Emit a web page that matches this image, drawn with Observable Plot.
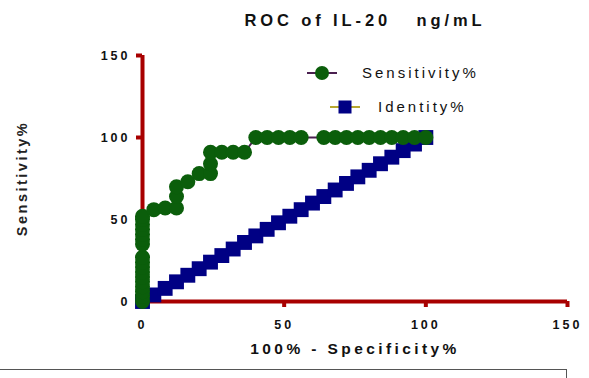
<!DOCTYPE html>
<html>
<head>
<meta charset="utf-8">
<script src="https://cdn.jsdelivr.net/npm/d3@7"></script>
<script src="https://cdn.jsdelivr.net/npm/@observablehq/plot@0.6"></script>
<style>
  html, body { margin: 0; padding: 0; background: #fff; }
  #wrap { position: relative; width: 589px; height: 378px; overflow: hidden; font-family: "Liberation Sans", Arial, sans-serif; }
  #title { position: absolute; top: 11px; left: 0; width: 730px; text-align: center; font-size: 16.5px; font-weight: bold; letter-spacing: 3.9px; color: #111; white-space: pre; }
  #box { position: absolute; left: -2px; top: 369px; width: 568px; height: 20px; border-top: 1px solid #555; border-right: 1px solid #555; }
  #chart { position: absolute; left: 0; top: 0; }
</style>
</head>
<body>
<div id="wrap">
  <div id="chart"></div>
  <div id="title">ROC of IL-20   ng/mL</div>
  <div id="box"></div>
</div>
<script>
// ROC curve: 100% - Specificity% (x) vs Sensitivity% (y)
const rocX = [0,0,0,0,0,0,0,0,0,0,0,0,0,0,0,0,0,
              4,8,12,12,12,16,20,24,24,24,28,32,36,40,44,48,52,56,
              64,68,72,76,80,84,88,92,96,100];
const rocY = [0,3,6,9,12,15,18,21,24,27,35,38,41,44,47,50,52,
              56,57,57,64,70,73,78,78,84,91,91,91,91,100,100,100,100,100,
              100,100,100,100,100,100,100,100,100,100];
// Identity line
const identX = [0,4,8,12,16,20,24,28,32,36,40,44,48,52,56,60,64,68,72,76,80,84,88,92,96,100];
const identY = identX.slice();
const xTicks = [0, 50, 100, 150];
const yTicks = [0, 50, 100, 150];
const seriesNames = ["Sensitivity%", "Identity%"];

const roc = rocX.map((x, i) => ({x, y: rocY[i]}));
const ident = identX.map((x, i) => ({x, y: identY[i]}));

const RED = "#a80000";
const GREEN = "#0b5e0b";
const NAVY = "#000084";
const PURPLE = "#4a2050";
const OLIVE = "#b8a830";

const plot = Plot.plot({
  width: 589,
  height: 378,
  marginLeft: 142,
  marginRight: 22,
  marginTop: 55,
  marginBottom: 77,
  style: {fontFamily: "Liberation Sans, Arial, sans-serif", background: "transparent", overflow: "visible"},
  x: {domain: [0, 150]},
  y: {domain: [0, 150]},
  marks: [
    Plot.ruleY([0], {x1: 0, x2: 150, stroke: RED, strokeWidth: 4}),
    Plot.ruleX([0], {y1: 0, y2: 150, stroke: RED, strokeWidth: 4}),
    Plot.axisX({ticks: xTicks, tickSize: 6, tickPadding: 13, stroke: RED, strokeWidth: 4, fill: "#111",
      fontSize: 12.5, fontWeight: "bold", label: null, tickFormat: d => d, className: "tk"}),
    Plot.axisY({ticks: yTicks, tickSize: 6, tickPadding: 6, stroke: RED, strokeWidth: 4, fill: "#111",
      fontSize: 12.5, fontWeight: "bold", label: null, tickFormat: d => d, className: "tk"}),
    Plot.line(ident, {x: "x", y: "y", stroke: OLIVE, strokeWidth: 1.5}),
    Plot.line(roc, {x: "x", y: "y", stroke: PURPLE, strokeWidth: 2}),
    Plot.dot(ident, {x: "x", y: "y", symbol: "square", r: 8.4, fill: NAVY, stroke: "none"}),
    Plot.dot(roc, {x: "x", y: "y", r: 7.5, fill: GREEN, stroke: "none"}),
    Plot.text(["100% - Specificity%"], {frameAnchor: "bottom", dy: 52, fontSize: 15.5, fontWeight: "bold", fill: "#111", className: "xl"}),
    Plot.text(["Sensitivity%"], {frameAnchor: "left", textAnchor: "middle", dx: -120, rotate: -90, fontSize: 14.5, fontWeight: "bold", fill: "#222", className: "yl"})
  ]
});
plot.querySelectorAll(".tk text").forEach(t => t.style.letterSpacing = "3px");
plot.querySelectorAll(".xl text").forEach(t => t.style.letterSpacing = "3.4px");
plot.querySelectorAll(".yl text").forEach(t => t.style.letterSpacing = "2.5px");
document.getElementById("chart").appendChild(plot);

// legend
const svg = d3.select(plot);
const leg = svg.append("g").attr("font-family", "Liberation Sans, Arial, sans-serif").attr("font-size", 15).attr("text-anchor", "start");
const items = [
  {name: seriesNames[0], lc: PURPLE, fc: GREEN, sym: "circle", cx: 322, cy: 73, tx: 362},
  {name: seriesNames[1], lc: OLIVE, fc: NAVY, sym: "square", cx: 345, cy: 107, tx: 378}
];
items.forEach(it => {
  leg.append("line").attr("x1", it.cx - 15).attr("x2", it.cx + 15).attr("y1", it.cy).attr("y2", it.cy)
    .attr("stroke", it.lc).attr("stroke-width", 2);
  if (it.sym === "circle") leg.append("circle").attr("cx", it.cx).attr("cy", it.cy).attr("r", 7).attr("fill", it.fc);
  else leg.append("rect").attr("x", it.cx - 6.5).attr("y", it.cy - 6.5).attr("width", 13).attr("height", 13).attr("fill", it.fc);
  leg.append("text").attr("x", it.tx).attr("y", it.cy).attr("dy", "0.35em").attr("fill", "#111")
    .attr("text-anchor", "start").style("letter-spacing", "3px").text(it.name);
});
</script>
</body>
</html>
